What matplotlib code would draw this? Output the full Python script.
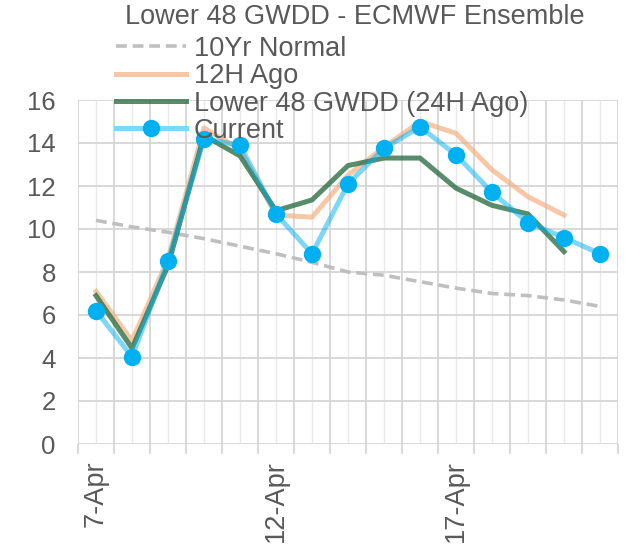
import numpy as np
import matplotlib
matplotlib.use('Agg')
import matplotlib.pyplot as plt
from matplotlib.ticker import FixedLocator, NullFormatter

plt.rcParams['font.family'] = ['Liberation Sans', 'DejaVu Sans']

# データ (4/7 ~ 4/21)
dates = ['7-Apr', '8-Apr', '9-Apr', '10-Apr', '11-Apr', '12-Apr', '13-Apr', '14-Apr',
         '15-Apr', '16-Apr', '17-Apr', '18-Apr', '19-Apr', '20-Apr', '21-Apr']
normal10 = [10.4, 10.1, 9.85, 9.55, 9.2, 8.85, 8.45, 8.0, 7.85, 7.55, 7.25, 7.0, 6.9, 6.7, 6.4]
ago12 = [7.1, 4.8, 8.6, 14.7, 13.7, 10.65, 10.55, 12.5, 13.8, 15.0, 14.45, 12.75, 11.5, 10.65, np.nan]
ago24 = [6.9, 4.45, 8.3, 14.35, 13.4, 10.85, 11.35, 12.95, 13.3, 13.3, 11.9, 11.1, 10.7, 8.95, np.nan]
current = [6.2, 4.05, 8.5, 14.2, 13.9, 10.7, 8.85, 12.1, 13.75, 14.75, 13.45, 11.7, 10.3, 9.6, 8.85]
label_every = 5

txt = '#595959'
fs = 19.5
x = np.arange(len(dates))

fig = plt.figure(figsize=(6.28, 5.46), dpi=100)
ax = fig.add_axes([78/628, 1-444/546, 540/628, 344/546])

ax.plot(x, normal10, color='#BFBFBF', lw=2.6, ls=(0, (3, 1.6)), label='10Yr Normal', zorder=3)
ax.plot(x, ago12, color='#F4B183', lw=3.6, alpha=0.7, label='12H Ago', zorder=4)
ax.plot(x, ago24, color='#2E7045', lw=3.6, alpha=0.8, label='Lower 48 GWDD (24H Ago)', zorder=5)
ax.plot(x, current, color='#00B0F0', lw=3.6, alpha=0.5, zorder=6)
ax.plot(x, current, ls='none', marker='o', ms=11.5, color='#00B0F0', zorder=7)
# 凡例用
ax.plot([], [], color='#7FD6F6', lw=3.6, marker='o', ms=11.5,
        markerfacecolor='#00B0F0', markeredgecolor='#00B0F0', label='Current')

ax.set_xlim(-0.5, len(dates) - 0.5)
ax.set_ylim(0, 16)
ax.set_yticks(np.arange(0, 17, 2))
ax.grid(axis='y', color='#D6D6D6', lw=1.3, zorder=0)

# 縦のグリッド
for b in np.arange(-0.5, len(dates) + 0.5, 1):
    ax.axvline(b, color='#D6D6D6', lw=1.3, zorder=0)
for p in x:
    ax.axvline(p, color='#EAEAEA', lw=1.0, zorder=0)

ax.xaxis.set_major_locator(FixedLocator(np.arange(-0.5, len(dates), 1)))
ax.xaxis.set_major_formatter(NullFormatter())
ax.tick_params(axis='x', which='major', length=7, width=1.3, color='#D6D6D6')
ax.tick_params(axis='y', length=0, pad=16, labelsize=18.5, labelcolor=txt)
for i in range(0, len(dates), label_every):
    ax.text(i, -0.75, dates[i], rotation=90, ha='center', va='top', fontsize=fs,
            color=txt, transform=ax.transData)

for s in ax.spines.values():
    s.set_visible(False)

fig.text(355/628, 1-17/546, 'Lower 48 GWDD - ECMWF Ensemble', ha='center', va='center',
         fontsize=fs, color=txt)

leg = fig.legend(loc='upper left', bbox_to_anchor=(105/628, 1-25/546), frameon=False,
                 fontsize=fs, labelcolor=txt, handlelength=2.6, handletextpad=0.28,
                 labelspacing=0.05, borderaxespad=0)

fig.savefig('out.png', dpi=100)
